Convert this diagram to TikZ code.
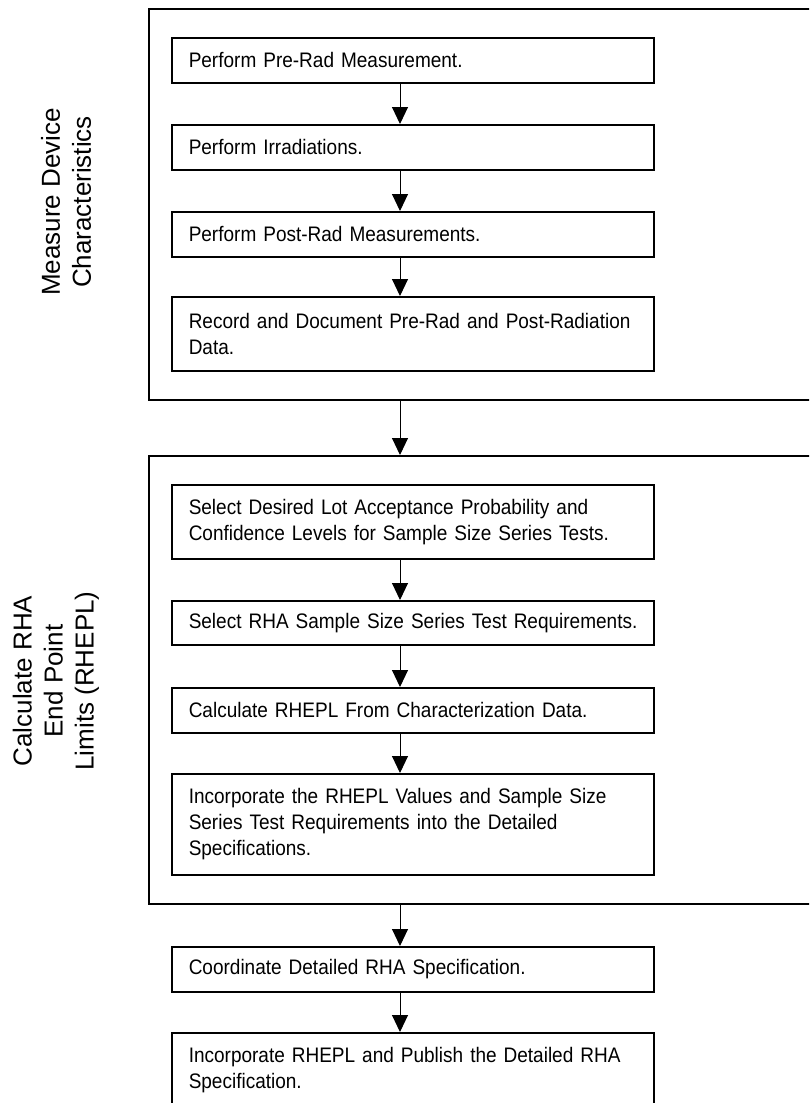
\documentclass[tikz,border=0pt]{standalone}
\usepackage{fontspec}
\setmainfont{Liberation Sans}
\newfontfamily\boxfont{Liberation Sans}[FakeStretch=0.905]
\usetikzlibrary{arrows.meta}
\begin{document}
\begin{tikzpicture}[x=1pt,y=-1pt,
  stepbox/.style={draw, line width=1.5pt, text width=448pt, inner xsep=17pt, inner ysep=0pt,
    align=left, font=\boxfont\fontsize{21}{26}\selectfont, anchor=north west},
  groupbox/.style={draw, line width=1.8pt, anchor=north west, minimum width=667pt},
  side/.style={rotate=90, align=center, font=\fontsize{26}{31}\selectfont},
  arr/.style={line width=1pt, -{Triangle[width=16pt,length=17pt]}}]
\useasboundingbox (0,0) rectangle (809,1103);
\clip (0,0) rectangle (809,1103);
\coordinate (ax) at (400,0);
% groups
\node[groupbox, minimum height=391pt] (g1) at (148,8) {};
\node[groupbox, minimum height=448pt] (g2) at (148,455) {};
% side labels
\node[side] (l1) at (66,202) {Measure Device\\Characteristics};
\node[side] (l2) at (56,681) {Calculate RHA\\End Point\\Limits (RHEPL)};
% steps
\node[stepbox, minimum height=45pt] (b1) at (171,37) {Perform Pre-Rad Measurement.};
\node[stepbox, minimum height=45pt] (b2) at (171,124) {Perform Irradiations.};
\node[stepbox, minimum height=45pt] (b3) at (171,211) {Perform Post-Rad Measurements.};
\node[stepbox, minimum height=74pt] (b4) at (171,296) {\mbox{Record and Document Pre-Rad and Post-Radiation}\\Data.};
\node[stepbox, minimum height=74pt] (b5) at (171,484) {\mbox{Select Desired Lot Acceptance Probability and}\\\mbox{Confidence Levels for Sample Size Series Tests.}};
\node[stepbox, minimum height=44pt] (b6) at (171,600) {\mbox{Select RHA Sample Size Series Test Requirements.}};
\node[stepbox, minimum height=45pt] (b7) at (171,687) {Calculate RHEPL From Characterization Data.};
\node[stepbox, minimum height=101pt] (b8) at (171,773) {\mbox{Incorporate the RHEPL Values and Sample Size}\\\mbox{Series Test Requirements into the Detailed}\\Specifications.};
\node[stepbox, minimum height=45pt] (b9) at (171,946) {Coordinate Detailed RHA Specification.};
\node[stepbox, minimum height=74pt] (b10) at (171,1032) {\mbox{Incorporate RHEPL and Publish the Detailed RHA}\\Specification.};
% arrows
\draw[arr] (b1.south -| ax) -- (b2.north -| ax);
\draw[arr] (b2.south -| ax) -- (b3.north -| ax);
\draw[arr] (b3.south -| ax) -- (b4.north -| ax);
\draw[arr] (g1.south -| ax) -- (g2.north -| ax);
\draw[arr] (b5.south -| ax) -- (b6.north -| ax);
\draw[arr] (b6.south -| ax) -- (b7.north -| ax);
\draw[arr] (b7.south -| ax) -- (b8.north -| ax);
\draw[arr] (g2.south -| ax) -- (b9.north -| ax);
\draw[arr] (b9.south -| ax) -- (b10.north -| ax);
\end{tikzpicture}
\end{document}
